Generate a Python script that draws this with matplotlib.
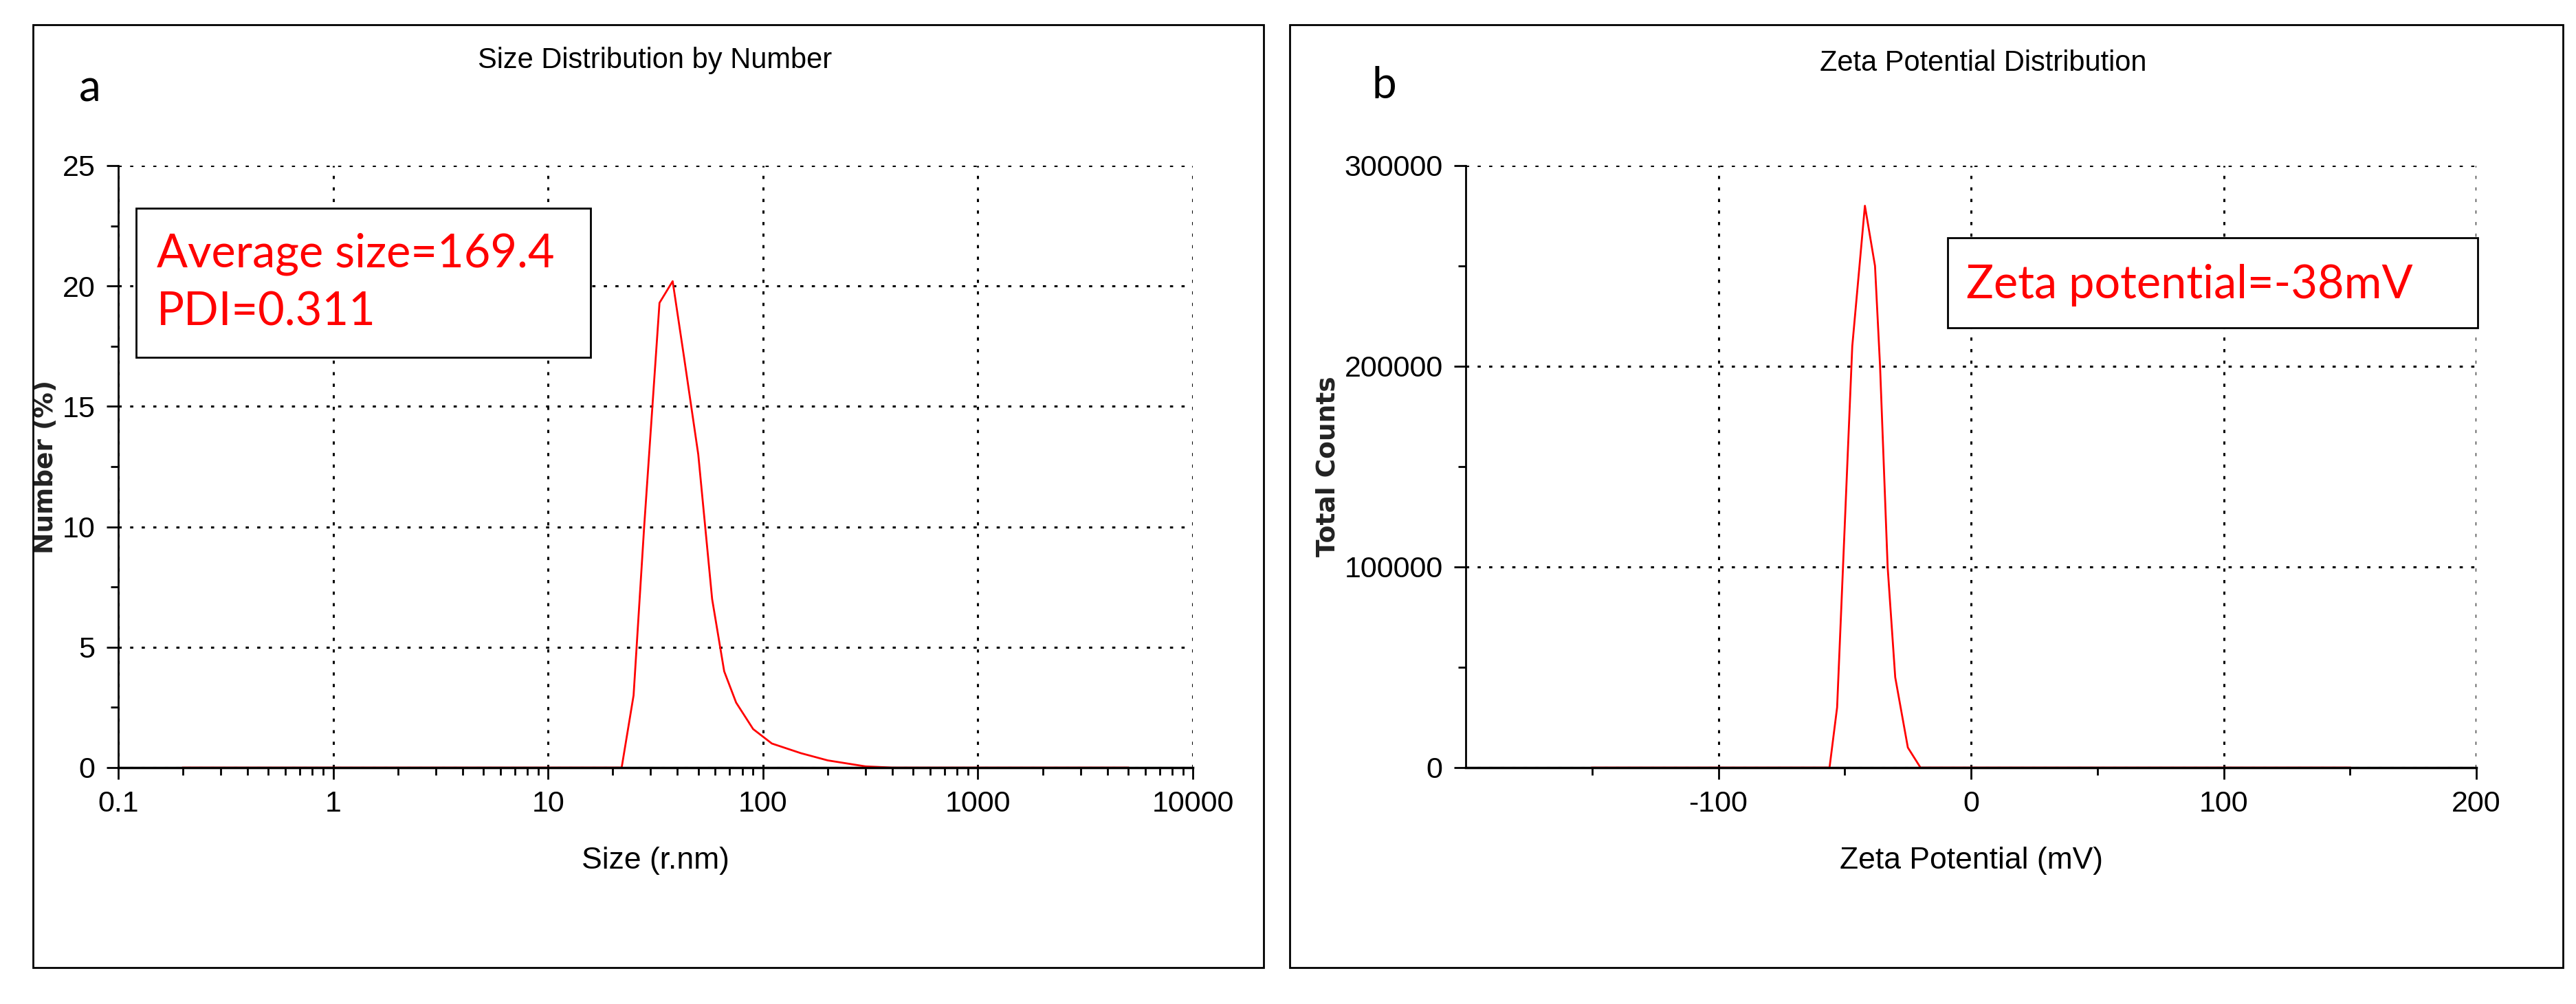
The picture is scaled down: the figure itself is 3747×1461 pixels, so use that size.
import matplotlib.pyplot as plt
import matplotlib.ticker as mticker
from matplotlib.patches import Rectangle
import numpy as np

plt.rcParams['font.family'] = ['Liberation Sans Narrow', 'Liberation Sans', 'DejaVu Sans']
plt.rcParams['axes.unicode_minus'] = False

# panel a: size distribution by number
size_nm = [0.2, 22, 25, 28, 33, 38, 43, 50, 58, 66, 75, 90, 110, 150, 200, 300, 400, 5000]
number_pct = [0, 0, 3, 10, 19.3, 20.2, 17, 13, 7, 4, 2.7, 1.6, 1.0, 0.6, 0.3, 0.05, 0, 0]

# panel b: zeta potential distribution
zeta_mv = [-150, -56, -53, -50, -47, -42, -38, -36, -33, -30, -25, -20, 150]
counts = [0, 0, 3e4, 1.2e5, 2.1e5, 2.8e5, 2.5e5, 2e5, 1e5, 4.5e4, 1e4, 0, 0]

W, H = 3747, 1461
fig = plt.figure(figsize=(W / 100, H / 100), dpi=100)


def fx(px):
    return px / W


def fy(py):
    return 1 - py / H


def style(ax):
    ax.spines['top'].set_visible(False)
    ax.spines['right'].set_visible(False)
    ax.spines['left'].set_linewidth(2)
    ax.spines['bottom'].set_linewidth(2.5)
    ax.grid(True, which='major', color='black', linestyle=(0, (1.5, 4)), linewidth=2.2)
    ax.tick_params(which='major', length=12, width=2, labelsize=31, direction='out', pad=12)
    ax.tick_params(which='minor', length=8, width=2, direction='out')
    ax.set_facecolor('white')


# outer frames
fig.add_artist(Rectangle((fx(48), fy(1408)), fx(1838 - 48), (1408 - 36) / H, fill=False,
                         edgecolor='black', linewidth=2, transform=fig.transFigure))
fig.add_artist(Rectangle((fx(1876), fy(1408)), fx(3728 - 1876), (1408 - 36) / H, fill=False,
                         edgecolor='black', linewidth=2, transform=fig.transFigure))

# ---- panel a ----
ax1 = fig.add_axes([fx(172), fy(1117), fx(1735 - 172), (1117 - 241) / H])
ax1.set_xscale('log')
ax1.plot(size_nm, number_pct, color='red', linewidth=2)
ax1.set_xlim(0.1, 10000)
ax1.set_ylim(0, 25)
ax1.set_yticks([0, 5, 10, 15, 20, 25])
ax1.yaxis.set_minor_locator(mticker.MultipleLocator(2.5))
ax1.xaxis.set_major_formatter(mticker.FuncFormatter(lambda v, p: f'{v:g}'))
ax1.xaxis.set_minor_locator(mticker.LogLocator(subs=np.arange(2, 10)))
ax1.xaxis.set_minor_formatter(mticker.NullFormatter())
style(ax1)
ax1.set_xlabel('Size (r.nm)', fontsize=32, labelpad=30)
ax1.set_ylabel('Number (%)', fontsize=27, family='DejaVu Sans', fontweight='bold', color='#222222')
fig.text(fx(953), fy(88), 'Size Distribution by Number', fontsize=30, ha='center', va='center')
fig.text(fx(115), fy(130), 'a', fontsize=46, family='Lato', va='center')
fig.add_artist(Rectangle((fx(198), fy(520)), fx(859 - 198), (520 - 303) / H, facecolor='white',
                         edgecolor='black', linewidth=2, transform=fig.transFigure))
fig.text(fx(228), fy(370), 'Average size=169.4', fontsize=48, family='Lato', color='red', va='center')
fig.text(fx(228), fy(455), 'PDI=0.311', fontsize=48, family='Lato', color='red', va='center')

# ---- panel b ----
ax2 = fig.add_axes([fx(2132), fy(1117), fx(3602 - 2132), (1117 - 241) / H])
ax2.plot(zeta_mv, counts, color='red', linewidth=2)
ax2.set_xlim(-200, 200)
ax2.set_ylim(0, 300000)
ax2.set_xticks([-100, 0, 100, 200])
ax2.set_yticks([0, 100000, 200000, 300000])
ax2.xaxis.set_minor_locator(mticker.FixedLocator([-150, -50, 50, 150]))
ax2.yaxis.set_minor_locator(mticker.MultipleLocator(50000))
style(ax2)
ax2.set_xlabel('Zeta Potential (mV)', fontsize=32, labelpad=30)
ax2.set_ylabel('Total Counts', fontsize=27, family='DejaVu Sans', fontweight='bold', color='#222222')
fig.text(fx(2885), fy(92), 'Zeta Potential Distribution', fontsize=30, ha='center', va='center')
fig.text(fx(1995), fy(125), 'b', fontsize=46, family='Lato', va='center')
fig.add_artist(Rectangle((fx(2833), fy(477)), fx(3604 - 2833), (477 - 346) / H, facecolor='white',
                         edgecolor='black', linewidth=2, transform=fig.transFigure))
fig.text(fx(2860), fy(415), 'Zeta potential=-38mV', fontsize=48, family='Lato', color='red', va='center')

fig.savefig('out.png', dpi=100, facecolor='white')
